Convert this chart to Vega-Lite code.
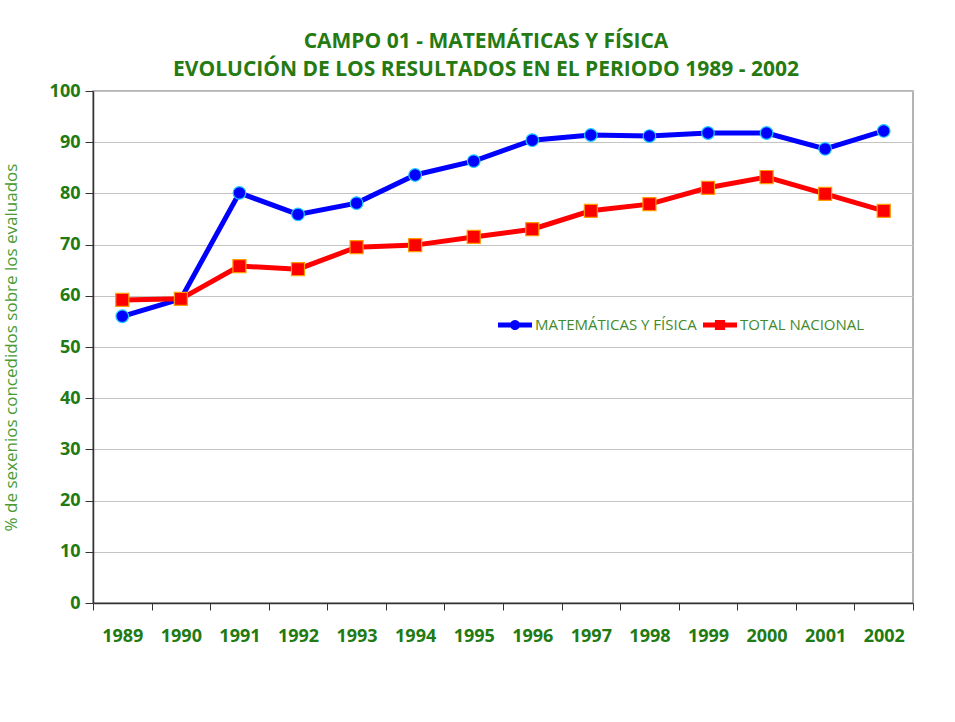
{
  "$schema": "https://vega.github.io/schema/vega-lite/v6.json",
  "width": 820,
  "height": 512,
  "autosize": {"type": "none"},
  "padding": {"left": 93, "top": 91, "right": 42, "bottom": 119},
  "background": "white",
  "title": {
    "text": ["CAMPO 01 - MATEMÁTICAS Y FÍSICA", "EVOLUCIÓN DE LOS RESULTADOS EN EL PERIODO 1989 - 2002"],
    "font": "Open Sans",
    "fontWeight": "bold",
    "fontSize": 21,
    "color": "#267a12",
    "lineHeight": 28,
    "anchor": "middle",
    "dx": -17,
    "offset": 2
  },
  "data": {
    "values": [
      {"year": "1989", "serie": "MATEMÁTICAS Y FÍSICA", "valor": 56.0},
      {"year": "1990", "serie": "MATEMÁTICAS Y FÍSICA", "valor": 59.4},
      {"year": "1991", "serie": "MATEMÁTICAS Y FÍSICA", "valor": 80.1},
      {"year": "1992", "serie": "MATEMÁTICAS Y FÍSICA", "valor": 75.9},
      {"year": "1993", "serie": "MATEMÁTICAS Y FÍSICA", "valor": 78.1},
      {"year": "1994", "serie": "MATEMÁTICAS Y FÍSICA", "valor": 83.6},
      {"year": "1995", "serie": "MATEMÁTICAS Y FÍSICA", "valor": 86.3},
      {"year": "1996", "serie": "MATEMÁTICAS Y FÍSICA", "valor": 90.4},
      {"year": "1997", "serie": "MATEMÁTICAS Y FÍSICA", "valor": 91.4},
      {"year": "1998", "serie": "MATEMÁTICAS Y FÍSICA", "valor": 91.2},
      {"year": "1999", "serie": "MATEMÁTICAS Y FÍSICA", "valor": 91.8},
      {"year": "2000", "serie": "MATEMÁTICAS Y FÍSICA", "valor": 91.8},
      {"year": "2001", "serie": "MATEMÁTICAS Y FÍSICA", "valor": 88.7},
      {"year": "2002", "serie": "MATEMÁTICAS Y FÍSICA", "valor": 92.2},
      {"year": "1989", "serie": "TOTAL NACIONAL", "valor": 59.2},
      {"year": "1990", "serie": "TOTAL NACIONAL", "valor": 59.4},
      {"year": "1991", "serie": "TOTAL NACIONAL", "valor": 65.8},
      {"year": "1992", "serie": "TOTAL NACIONAL", "valor": 65.2},
      {"year": "1993", "serie": "TOTAL NACIONAL", "valor": 69.5},
      {"year": "1994", "serie": "TOTAL NACIONAL", "valor": 69.9},
      {"year": "1995", "serie": "TOTAL NACIONAL", "valor": 71.5},
      {"year": "1996", "serie": "TOTAL NACIONAL", "valor": 73.0},
      {"year": "1997", "serie": "TOTAL NACIONAL", "valor": 76.6},
      {"year": "1998", "serie": "TOTAL NACIONAL", "valor": 77.9},
      {"year": "1999", "serie": "TOTAL NACIONAL", "valor": 81.1},
      {"year": "2000", "serie": "TOTAL NACIONAL", "valor": 83.2},
      {"year": "2001", "serie": "TOTAL NACIONAL", "valor": 79.9},
      {"year": "2002", "serie": "TOTAL NACIONAL", "valor": 76.6}
    ]
  },
  "encoding": {
    "x": {
      "field": "year",
      "type": "ordinal",
      "scale": {"type": "band", "paddingInner": 0, "paddingOuter": 0},
      "axis": {
        "title": null,
        "labelAngle": 0,
        "tickBand": "extent",
        "tickSize": 7,
        "tickColor": "#333333",
        "domainColor": "#333333",
        "domainWidth": 1.5,
        "labelFont": "Open Sans",
        "labelFontWeight": "bold",
        "labelFontSize": 18,
        "labelColor": "#217a12",
        "labelPadding": 17,
        "grid": false
      }
    },
    "y": {
      "field": "valor",
      "type": "quantitative",
      "scale": {"domain": [0, 100], "nice": false},
      "axis": {
        "title": "% de sexenios concedidos sobre los evaluados",
        "titleFont": "Open Sans",
        "titleFontWeight": "normal",
        "titleFontSize": 17,
        "titleColor": "#4a9a35",
        "titlePadding": 29,
        "values": [0, 10, 20, 30, 40, 50, 60, 70, 80, 90, 100],
        "tickSize": 8,
        "tickColor": "#333333",
        "domainColor": "#333333",
        "domainWidth": 1.5,
        "labelFont": "Open Sans",
        "labelFontWeight": "bold",
        "labelFontSize": 18,
        "labelColor": "#217a12",
        "labelPadding": 5,
        "grid": true,
        "gridColor": "#c4c4c4",
        "gridWidth": 1.2
      }
    },
    "color": {
      "field": "serie",
      "type": "nominal",
      "scale": {"domain": ["MATEMÁTICAS Y FÍSICA", "TOTAL NACIONAL"], "range": ["#0000ff", "#ff0000"]},
      "legend": {
        "title": null,
        "orient": "none",
        "direction": "horizontal",
        "legendX": 405,
        "legendY": 217,
        "labelFont": "Open Sans",
        "labelFontSize": 15,
        "labelColor": "#3f8a2a",
        "labelLimit": 400,
        "labelOffset": 3,
        "columnPadding": 6,
        "symbolSize": 1156,
        "symbolStrokeWidth": 0,
        "encode": {
          "symbols": {
            "update": {
              "shape": {"signal": "datum.value === 'TOTAL NACIONAL' ? 'M-1,-0.15 L-0.3,-0.15 L-0.3,-0.3 L0.3,-0.3 L0.3,-0.15 L1,-0.15 L1,0.15 L0.3,0.15 L0.3,0.3 L-0.3,0.3 L-0.3,0.15 L-1,0.15 Z' : 'M-1,-0.15 L-0.26,-0.15 A0.3,0.3 0 0 1 0.26,-0.15 L1,-0.15 L1,0.15 L0.26,0.15 A0.3,0.3 0 0 1 -0.26,0.15 L-1,0.15 Z'"},
              "fill": {"signal": "datum.value === 'TOTAL NACIONAL' ? '#ff0000' : '#0000ff'"},
              "opacity": {"value": 1},
              "strokeWidth": {"value": 0}
            }
          }
        }
      }
    }
  },
  "layer": [
    {
      "mark": {"type": "line", "strokeWidth": 5}
    },
    {
      "transform": [{"filter": "datum.serie === 'MATEMÁTICAS Y FÍSICA'"}],
      "mark": {"type": "point", "shape": "circle", "filled": true, "opacity": 1, "strokeWidth": 1.2, "stroke": "#22ccff", "size": 160}
    },
    {
      "transform": [{"filter": "datum.serie === 'TOTAL NACIONAL'"}],
      "mark": {"type": "point", "shape": "square", "filled": true, "opacity": 1, "strokeWidth": 1.2, "stroke": "#ff9a00", "size": 170}
    }
  ],
  "config": {
    "view": {"stroke": "#9a9a9a", "strokeWidth": 1.5}
  }
}
